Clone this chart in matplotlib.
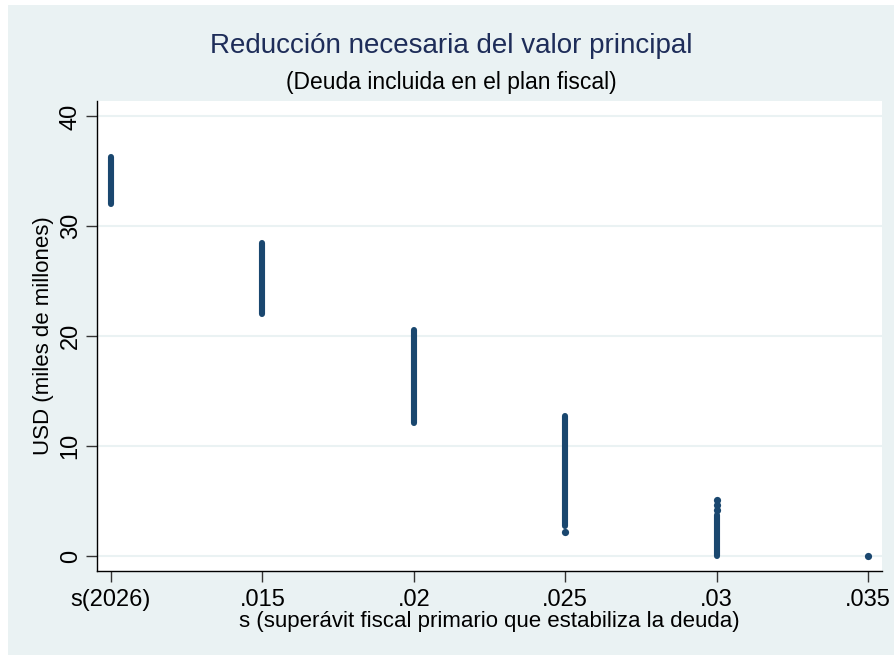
import matplotlib
matplotlib.use("Agg")
import matplotlib.pyplot as plt
from matplotlib.patches import Rectangle

# --- Data ---
tick_pos = [0.010, 0.015, 0.020, 0.025, 0.030, 0.035]
tick_labels = ["s(2026)", ".015", ".02", ".025", ".03", ".035"]

# dense stripes of points: (x, lowest, highest)
stripe_x = [0.010, 0.015, 0.020, 0.025, 0.030]
stripe_low = [32.0, 22.0, 12.1, 2.7, 0.0]
stripe_high = [36.3, 28.5, 20.6, 12.7, 3.7]

# separate points
pt_x = [0.025, 0.030, 0.030, 0.030, 0.035]
pt_y = [2.2, 4.2, 4.65, 5.1, 0.0]

navy = "#1a476f"
bg = "#eaf2f3"

plt.rcParams["font.family"] = ["Liberation Sans", "DejaVu Sans"]

fig = plt.figure(figsize=(8.94, 6.56), dpi=100)
fig.patch.set_facecolor("white")
fig.patches.append(Rectangle((8 / 894, 1 / 656), 886 / 894, 650 / 656,
                             transform=fig.transFigure, facecolor=bg,
                             edgecolor="none", zorder=-10))

ax = fig.add_axes([97 / 894, 85 / 656, 785 / 894, 470 / 656])
ax.set_facecolor("white")

lc = ax.vlines(stripe_x, stripe_low, stripe_high, color=navy, linewidth=4.4)
lc.set_capstyle("round")
ax.plot(pt_x, pt_y, "o", color=navy, markersize=5.2, markeredgewidth=0)

ax.set_xlim(0.010 - 0.00046, 0.035 + 0.00046)
ax.set_ylim(-1.36, 41.4)
ax.set_xticks(tick_pos)
ax.set_xticklabels(tick_labels)
ax.set_yticks([0, 10, 20, 30, 40])
ax.set_yticklabels(["0", "10", "20", "30", "40"], rotation=90, va="center")

ax.grid(axis="y", color=bg, linewidth=1.5)
ax.set_axisbelow(True)
for side in ["top", "right"]:
    ax.spines[side].set_visible(False)
for side in ["left", "bottom"]:
    ax.spines[side].set_color("black")
    ax.spines[side].set_linewidth(1.0)

ax.tick_params(axis="both", labelsize=17, length=8, width=1, color="#333333", pad=5)
ax.tick_params(axis="y", pad=3)

ax.set_xlabel("s (superávit fiscal primario que estabiliza la deuda)", fontsize=16, labelpad=0)
ax.set_ylabel("USD (miles de millones)", fontsize=16, labelpad=4)

fig.text(451 / 894, 1 - 46 / 656, "Reducción necesaria del valor principal",
         ha="center", va="center", fontsize=20, color="#1e2d59")
fig.text(451 / 894, 1 - 83 / 656, "(Deuda incluida en el plan fiscal)",
         ha="center", va="center", fontsize=16.5, color="black")

fig.savefig("out.png", dpi=100, facecolor=fig.get_facecolor())
